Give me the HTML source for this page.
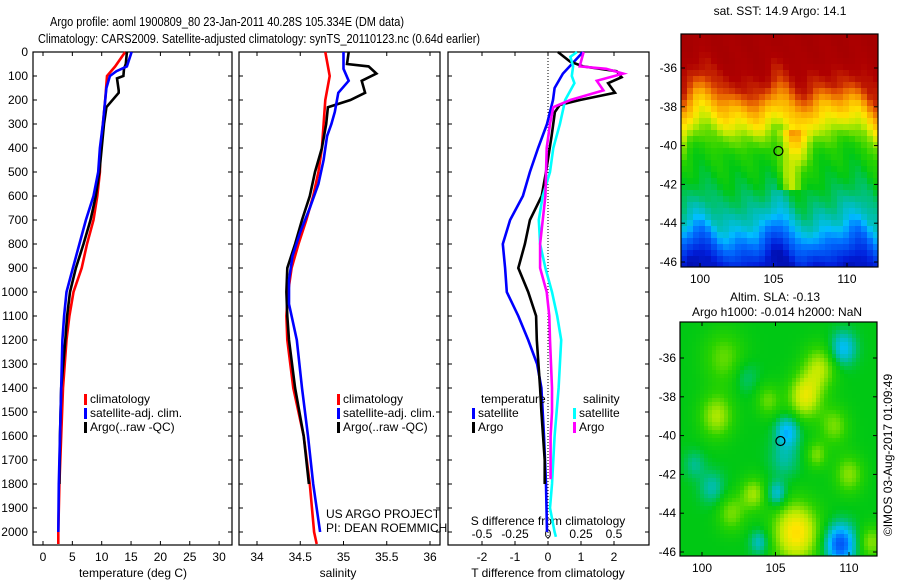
<!DOCTYPE html>
<html><head><meta charset="utf-8"><style>
body{margin:0;background:#fff}
svg{display:block;font-family:"Liberation Sans",sans-serif;font-size:12px}
</style></head><body>
<svg id="fig" width="900" height="580" viewBox="0 0 900 580">
<rect width="900" height="580" fill="#fff"/>
<text x="50" y="26" textLength="354" lengthAdjust="spacingAndGlyphs" font-size="13">Argo profile: aoml 1900809_80 23-Jan-2011 40.28S 105.334E (DM data)</text>
<text x="38" y="43" textLength="442" lengthAdjust="spacingAndGlyphs" font-size="13">Climatology: CARS2009. Satellite-adjusted climatology: synTS_20110123.nc (0.64d earlier)</text>
<g id="g"></g>
</svg>
<script>
// ---------- data ----------
const depthTicks=[0,100,200,300,400,500,600,700,800,900,1000,1100,1200,1300,1400,1500,1600,1700,1800,1900,2000];
const tempTicks=[0,5,10,15,20,25,30];
const salTicks=[34,34.5,35,35.5,36];
const salTickLabels=["34","34.5","35","35.5","36"];
const tdiffTicks=[-2,-1,0,1,2];
const sdiffTicks=[-0.5,-0.25,0,0.25,0.5];
const sdiffTickLabels=["-0.5","-0.25","0","0.25","0.5"];

const tClimDepth=[0,60,100,200,300,400,500,600,700,800,900,1000,1100,1200,1400,1600,1800,2000,2050];
const tClim=[14.0,12.3,10.9,10.6,10.2,9.8,9.7,9.25,8.6,7.5,6.6,5.2,4.5,4.0,3.4,3.1,2.8,2.6,2.6];
const tSatDepth=[0,60,80,100,150,200,300,400,500,600,700,800,900,1000,1100,1200,1400,1600,1800,2000];
const tSat=[15.1,14.3,12.5,11.4,10.8,10.6,10.2,9.7,9.4,8.6,7.3,6.2,5.1,4.0,3.6,3.3,3.1,2.9,2.7,2.6];
const tArgoDepth=[0,50,70,100,110,160,170,230,300,400,500,600,700,800,900,1000,1100,1200,1400,1600,1800];
const tArgo=[14.3,14.1,13.8,13.7,12.6,12.9,12.9,10.8,10.4,10.0,9.6,9.0,8.1,6.9,5.6,4.6,4.1,3.8,3.1,2.9,2.8];

const sClimDepth=[0,100,200,300,400,500,600,700,800,900,1000,1100,1200,1400,1600,1800,2000,2050];
const sClim=[34.79,34.84,34.79,34.77,34.75,34.71,34.65,34.57,34.48,34.40,34.36,34.34,34.35,34.42,34.54,34.61,34.66,34.69];
const sSatDepth=[0,30,70,120,170,250,300,350,450,550,650,750,850,950,1050,1200,1400,1600,1800,2000];
const sSat=[35.0,35.0,35.0,35.06,34.94,34.90,34.86,34.81,34.77,34.71,34.61,34.50,34.41,34.37,34.37,34.46,34.52,34.59,34.65,34.73];
const sArgoDepth=[0,50,60,90,120,170,200,230,300,400,500,600,700,800,900,1000,1100,1200,1400,1600,1800];
const sArgo=[35.06,35.04,35.29,35.38,35.21,35.25,35.08,34.82,34.80,34.75,34.67,34.61,34.52,34.44,34.35,34.34,34.35,34.37,34.44,34.54,34.60];

const dtSatDepth=[0,90,150,200,300,400,500,600,700,800,900,1000,1100,1200,1300,1400,1600,1800,2000];
const dtSat=[1.06,0.45,0.2,0.15,-0.03,-0.3,-0.55,-0.76,-1.15,-1.37,-1.3,-1.25,-0.9,-0.6,-0.33,-0.2,-0.12,-0.06,-0.03];
const dtArgoDepth=[0,40,60,80,105,130,170,200,220,250,350,500,600,700,800,900,1000,1100,1200,1400,1500,1700,1800];
const dtArgo=[0.3,0.67,1.06,2.08,2.23,1.82,2.03,0.97,0.36,0.21,0.11,-0.06,-0.19,-0.55,-0.7,-0.9,-0.6,-0.36,-0.34,-0.24,-0.2,-0.1,-0.1];
const dsArgoDepth=[0,60,70,90,120,160,200,230,300,400,600,800,900,1000,1100,1200,1400,1500,1600,1700,1780];
const dsArgo=[0.27,0.24,0.44,0.57,0.37,0.42,0.17,0.04,0.015,-0.01,-0.02,-0.06,-0.06,-0.01,0.01,0.015,0.03,0.03,0.02,0.02,0.02];
const dsSatDepth=[0,20,60,100,130,200,300,400,500,600,700,800,900,1000,1100,1200,1400,1600,1800,1900,2000,2020];
const dsSat=[0.22,0.17,0.19,0.18,0.2,0.13,0.09,0.04,0.015,-0.04,-0.07,-0.06,-0.02,0.03,0.07,0.10,0.08,0.05,0.03,0.015,0.05,0.06];

const mapLonTicks=[100,105,110];
const mapLatTicks=[-36,-38,-40,-42,-44,-46];
const argoLon=105.334, argoLat=-40.28;

// ---------- helpers ----------
const NS="http://www.w3.org/2000/svg";
const G=document.getElementById('g');
function el(tag,attrs,parent){const e=document.createElementNS(NS,tag);for(const k in attrs)e.setAttribute(k,attrs[k]);(parent||G).appendChild(e);return e;}
function txt(x,y,s,anchor,parent,extra){const t=el('text',Object.assign({x:x,y:y,'text-anchor':anchor||'start'},extra||{}),parent);t.textContent=s;return t;}

const TOP=52,BOT=545;
const yD=d=>TOP+0.24*d;
const P1={l:33,r:232}, P2={l:239,r:440}, P3={l:448,r:649};
const xT=v=>43+5.87*v;
const xS=v=>257+86.5*(v-34);
const xDT=v=>548+33*v;
const xDS=v=>548+132*v;

function panel(P,name){
  const g=el('g',{});
  
  
  el('rect',{x:P.l,y:TOP,width:P.r-P.l,height:BOT-TOP,fill:'none',stroke:'#000','stroke-width':1.2},g);
  depthTicks.forEach(d=>{
    el('line',{x1:P.l,x2:P.l+4,y1:yD(d),y2:yD(d),stroke:'#000'},g);
    el('line',{x1:P.r-4,x2:P.r,y1:yD(d),y2:yD(d),stroke:'#000'},g);
  });
  return g;
}
function xticks(g,P,ticks,f,labels,ly){
  ticks.forEach((v,i)=>{
    const x=f(v);
    el('line',{x1:x,x2:x,y1:BOT,y2:BOT-4,stroke:'#000'},g);
    el('line',{x1:x,x2:x,y1:TOP,y2:TOP+4,stroke:'#000'},g);
    if(labels){const t=txt(x,ly,labels[i],'middle',g);}
  });
}
function line(g,xs,ds,fx,color,name){
  const pts=xs.map((v,i)=>fx(v).toFixed(1)+','+yD(ds[i]).toFixed(1)).join(' ');
  const p=el('polyline',{points:pts,fill:'none',stroke:color,'stroke-width':2.6,'stroke-linejoin':'miter'},g);
  
  
}
function legend(g,x,y,color,label,name){
  const r=el('rect',{x:x,y:y-9,width:3,height:11,fill:color},g);
  
  
  const t=txt(x+6,y,label,'start',g);
  
  
}

// ---------- panel 1 ----------
const g1=panel(P1,'temperature-panel');
depthTicks.forEach(d=>{const t=txt(28,yD(d)+4,String(d),'end',g1);});
xticks(g1,P1,tempTicks,xT,tempTicks.map(String),561);
const xl1=txt(133,577,'temperature (deg C)','middle',g1);


line(g1,tClim,tClimDepth,xT,'#f00','temp-climatology-line');
line(g1,tArgo,tArgoDepth,xT,'#000','temp-argo-line');
line(g1,tSat,tSatDepth,xT,'#00f','temp-satellite-line');
legend(g1,84,403,'#f00','climatology','legend-climatology');
legend(g1,84,417,'#00f','satellite-adj. clim.','legend-satellite');
legend(g1,84,431,'#000','Argo(..raw -QC)','legend-argo');

// ---------- panel 2 ----------
const g2=panel(P2,'salinity-panel');
xticks(g2,P2,salTicks,xS,salTickLabels,561);
const xl2=txt(338,577,'salinity','middle',g2);


line(g2,sClim,sClimDepth,xS,'#f00','sal-climatology-line');
line(g2,sArgo,sArgoDepth,xS,'#000','sal-argo-line');
line(g2,sSat,sSatDepth,xS,'#00f','sal-satellite-line');
legend(g2,337,403,'#f00','climatology','legend-climatology-2');
legend(g2,337,417,'#00f','satellite-adj. clim.','legend-satellite-2');
legend(g2,337,431,'#000','Argo(..raw -QC)','legend-argo-2');
const c1=txt(326,518,'US ARGO PROJECT','start',g2);


const c2=txt(326,532,'PI: DEAN ROEMMICH','start',g2);



// ---------- panel 3 ----------
const g3=panel(P3,'difference-panel');
el('line',{x1:xDT(0),x2:xDT(0),y1:TOP,y2:BOT,stroke:'#000','stroke-dasharray':'1,2'},g3);
xticks(g3,P3,tdiffTicks,xDT,tdiffTicks.map(String),561);
sdiffTicks.forEach((v,i)=>{const t=txt(xDS(v),538,sdiffTickLabels[i],'middle',g3);});
const sl=txt(548,525,'S difference from climatology','middle',g3);


const tl=txt(548,577,'T difference from climatology','middle',g3);


line(g3,dtSat,dtSatDepth,xDT,'#00f','t-diff-satellite-line');
line(g3,dtArgo,dtArgoDepth,xDT,'#000','t-diff-argo-line');
line(g3,dsSat,dsSatDepth,xDS,'#0ff','s-diff-satellite-line');
line(g3,dsArgo,dsArgoDepth,xDS,'#f0f','s-diff-argo-line');
const lt=txt(481,403,'temperature','start',g3);


const ls=txt(583,403,'salinity','start',g3);


legend(g3,472,417,'#00f','satellite','legend-t-satellite');
legend(g3,472,431,'#000','Argo','legend-t-argo');
legend(g3,573,417,'#0ff','satellite','legend-s-satellite');
legend(g3,573,431,'#f0f','Argo','legend-s-argo');

// ---------- maps ----------
const stops=[[0,0,0,130],[0.12,0,30,220],[0.25,0,110,255],[0.33,0,190,255],[0.4,0,190,160],[0.47,0,200,20],[0.52,40,210,0],[0.6,190,235,0],[0.66,255,230,0],[0.75,250,160,0],[0.84,225,80,0],[0.92,175,0,0],[1,160,0,0]];
function cmap(v){v=Math.max(0,Math.min(1,v));for(let i=1;i<stops.length;i++){if(v<=stops[i][0]){const a=stops[i-1],b=stops[i],t=(v-a[0])/(b[0]-a[0]);return 'rgb('+[1,2,3].map(k=>Math.round(a[k]+(b[k]-a[k])*t)).join(',')+')';}}return 'rgb(160,0,0)';}
const sstLat=[-34,-35.5,-37,-38,-39,-39.6,-40.5,-42,-43,-44,-45,-46.3];
const sstVal=[0.96,0.95,0.88,0.73,0.63,0.56,0.5,0.46,0.42,0.36,0.24,0.08];
function interp(lat){for(let i=1;i<sstLat.length;i++){if(lat>=sstLat[i]){const t=(lat-sstLat[i-1])/(sstLat[i]-sstLat[i-1]);return sstVal[i-1]+(sstVal[i]-sstVal[i-1])*t;}}return sstVal[sstVal.length-1];}
const slaBlobs=[[106.4,-45,0.2,1.1],[107,-38,0.16,0.8],[101,-39,0.12,0.8],[102,-44,0.09,0.7],[103.5,-43,0.11,0.6],[108,-36.5,0.12,0.8],[110,-42,0.1,0.7],[101.5,-36,0.08,1],[109,-39.5,0.09,0.7],[111.5,-45.5,0.1,0.6],[104.5,-38.2,0.08,0.6],[107.8,-41,0.09,0.5],
 [109.4,-45.6,-0.26,0.7],[105.8,-39.8,-0.15,0.55],[105.1,-43,-0.12,0.45],[100.7,-42.7,-0.08,0.6],[109.6,-35.5,-0.14,0.6],[103.9,-45.5,-0.1,0.45],[103,-37,-0.05,0.6],[105.6,-41.2,-0.07,0.7],[99.5,-41.5,-0.06,0.5]];

function drawMap(M,name,fieldFn,cs){
  const g=el('g',{});
  
  
  const lonX=lon=>M.x100+(lon-100)*M.sx;
  const latY=lat=>M.y36+(-36-lat)*M.sy;
  for(let y=M.t;y<M.b;y+=cs){for(let x=M.l;x<M.r;x+=cs){
    const lon=100+(x+cs/2-M.x100)/M.sx, lat=-36-(y+cs/2-M.y36)/M.sy;
    el('rect',{x:x,y:y,width:Math.min(cs,M.r-x)+0.3,height:Math.min(cs,M.b-y)+0.3,fill:cmap(fieldFn(lon,lat))},g);
  }}
  el('rect',{x:M.l,y:M.t,width:M.r-M.l,height:M.b-M.t,fill:'none',stroke:'#000','stroke-width':1.2},g);
  mapLonTicks.forEach(v=>{const x=lonX(v);el('line',{x1:x,x2:x,y1:M.b,y2:M.b-4,stroke:'#000'},g);el('line',{x1:x,x2:x,y1:M.t,y2:M.t+4,stroke:'#000'},g);
    const t=txt(x,M.b+16,String(v),'middle',g);});
  mapLatTicks.forEach(v=>{const y=latY(v);el('line',{x1:M.l,x2:M.l+4,y1:y,y2:y,stroke:'#000'},g);el('line',{x1:M.r-4,x2:M.r,y1:y,y2:y,stroke:'#000'},g);
    const t=txt(M.l-4,y+4,String(v),'end',g);});
  const c=el('circle',{cx:lonX(argoLon),cy:latY(argoLat),r:4.5,fill:'none',stroke:'#000','stroke-width':1.2},g);
  
  
  return g;
}
const m1=drawMap({l:681,r:878,t:34,b:267,x100:700,sx:14.7,y36:68,sy:19.4},'sst-map',(lon,lat)=>{
  let v=interp(lat+0.4*Math.sin(lon*1.3)+0.25*Math.sin(lon*2.3+1)+0.2*Math.cos(lon*0.9+lat*0.5));
  v+=0.015*Math.sin(lon*3+lat*2);
  if(lat<-39.3&&lat>-42.3) v+=0.13*Math.exp(-Math.pow(lon-106.2,2)/0.6);
  return v;},6);
const mt1=txt(780,15,'sat. SST: 14.9 Argo: 14.1','middle',m1);


const m2=drawMap({l:680,r:877,t:322,b:556,x100:702,sx:14.7,y36:358,sy:19.4},'sla-map',(lon,lat)=>{
  let v=0.47;
  slaBlobs.forEach(b=>{v+=b[2]*Math.exp(-((lon-b[0])**2+(lat-b[1])**2)/(2*b[3]*b[3]));});
  return v;},4);
const mt2=txt(775,301,'Altim. SLA: -0.13','middle',m2);


const mt3=txt(777,316,'Argo h1000: -0.014 h2000: NaN','middle',m2);


const cr=txt(0,0,'©IMOS 03-Aug-2017 01:09:49','middle',m2,{transform:'translate(892,455) rotate(-90)'});


</script>
</body></html>
